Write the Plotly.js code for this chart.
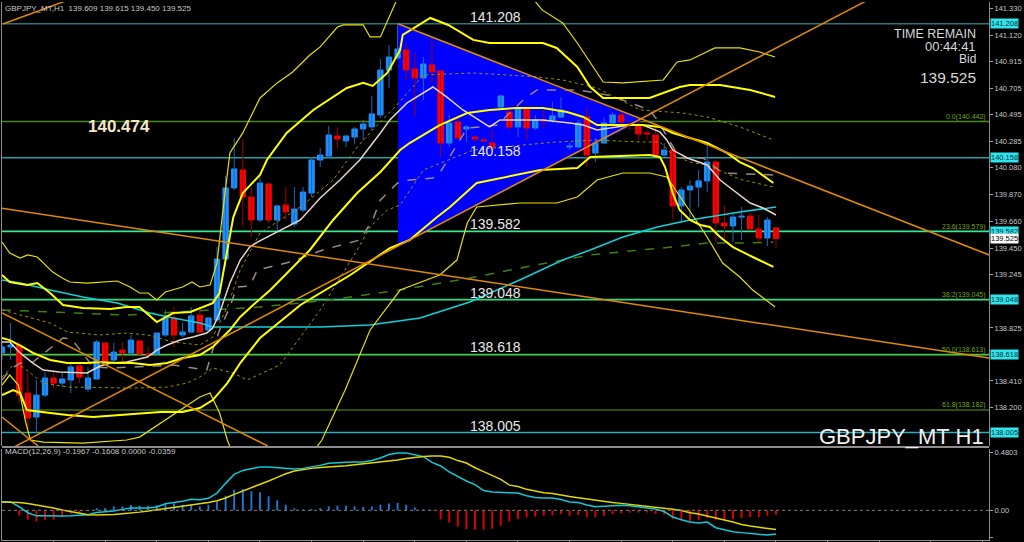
<!DOCTYPE html>
<html><head><meta charset="utf-8">
<script src="https://cdn.plot.ly/plotly-3.0.1.min.js"></script>
<style>html,body{margin:0;padding:0;background:#000;}#chart{width:1024px;height:542px;}</style>
</head><body><div id="chart"></div>
<script>
// ---------------- DATA ----------------
const symbolTitle = 'GBPJPY_MT,H1  139.609 139.615 139.450 139.525';
const candleOpen = [138.629,138.676,138.691,138.315,138.127,138.299,138.433,138.393,138.417,138.527,138.346,138.425,138.707,138.574,138.652,138.629,138.723,138.621,138.621,138.770,138.903,138.770,138.793,138.926,138.809,138.887,139.365,139.922,140.063,139.851,139.671,139.953,139.671,139.788,139.640,139.749,139.882,140.141,140.172,140.329,140.290,140.321,140.384,140.400,140.494,140.846,140.940,141.003,140.854,140.784,140.886,140.839,140.274,140.439,140.384,140.321,140.298,140.274,140.556,140.517,140.400,140.541,140.392,140.455,140.455,140.478,140.243,140.243,140.478,140.196,140.274,140.431,140.494,140.423,140.415,140.353,140.337,140.180,140.219,139.781,139.906,139.929,139.977,140.125,139.647,139.624,139.694,139.702,139.600,139.530,139.609];
const candleHigh = [138.730,138.864,138.715,138.480,138.417,138.480,138.480,138.472,138.550,138.550,138.519,138.730,138.715,138.707,138.715,138.770,138.730,138.676,138.793,138.966,138.989,138.864,138.989,138.989,138.911,139.459,140.016,140.314,140.298,139.922,140.008,139.961,139.788,139.929,139.929,139.929,140.165,140.235,140.408,140.400,140.337,140.400,140.455,140.643,140.933,141.042,141.208,141.050,140.980,140.948,141.105,140.846,140.494,140.478,140.415,140.329,140.321,140.384,140.650,140.541,140.549,140.549,140.494,140.533,140.596,140.635,140.282,140.455,140.556,140.314,140.478,140.517,140.509,140.455,140.455,140.376,140.415,140.274,140.235,139.929,139.984,140.063,140.259,140.141,139.788,139.726,139.773,139.734,139.710,139.694,139.615];
const candleLow = [138.574,138.574,138.237,138.025,138.005,138.284,138.354,138.362,138.315,138.393,138.323,138.417,138.550,138.558,138.558,138.613,138.613,138.597,138.613,138.754,138.676,138.754,138.785,138.785,138.793,138.871,139.303,139.906,139.616,139.538,139.655,139.647,139.592,139.671,139.616,139.734,139.851,140.086,140.157,140.235,140.243,140.266,140.298,140.376,140.470,140.705,140.925,140.768,140.478,140.611,140.745,140.165,140.243,140.298,140.282,140.282,140.282,140.235,140.533,140.376,140.321,140.298,140.376,140.392,140.431,140.470,140.219,140.235,140.086,140.125,140.266,140.415,140.415,140.376,140.298,140.298,140.165,140.165,139.679,139.647,139.687,139.773,139.890,139.498,139.530,139.498,139.514,139.592,139.498,139.467,139.450];
const candleClose = [138.676,138.691,138.299,138.119,138.299,138.433,138.393,138.425,138.519,138.440,138.433,138.715,138.566,138.636,138.629,138.730,138.621,138.613,138.785,138.903,138.770,138.793,138.919,138.793,138.903,139.365,139.922,140.071,139.851,139.671,139.961,139.671,139.781,139.734,139.757,139.890,140.141,140.180,140.337,140.306,140.329,140.384,140.423,140.502,140.846,140.948,141.011,140.846,140.784,140.893,140.831,140.274,140.431,140.314,140.400,140.306,140.290,140.243,140.643,140.400,140.541,140.392,140.455,140.447,140.486,140.533,140.251,140.431,140.180,140.274,140.431,140.494,140.439,140.415,140.345,140.345,140.180,140.219,139.781,139.906,139.937,139.977,140.125,139.647,139.624,139.694,139.702,139.600,139.530,139.671,139.525];

// indicator lines: [candle index, price]
const bbUpperOuter = [[0,139.498],[0.9,139.412],[2.1,139.373],[3,139.397],[4.1,139.381],[5,139.318],[5.9,139.263],[7,139.216],[7.9,139.185],[9.9,139.177],[11.7,139.185],[13.4,139.193],[14.9,139.146],[16,139.099],[17,139.099],[18,139.044],[19,139.107],[19.9,139.122],[21,139.146],[22.1,139.185],[23,139.146],[24.2,139.161],[25,139.334],[25.6,139.694],[26.5,140.196],[28,140.353],[30,140.627],[32,140.745],[33.8,140.831],[35.8,140.964],[37,141.027],[39,141.183],[39.7,141.199],[42,141.199],[42.8,141.105],[44,141.105],[44.9,141.238],[45.9,141.395],[48.6,141.59],[53.3,141.67],[57.9,141.59],[61.4,141.434],[62.8,141.317],[65.2,141.215],[66.9,141.058],[69.9,140.752],[72.2,140.745],[76.9,140.768],[78.5,140.909],[80,140.925],[81.2,140.964],[82.9,141.019],[85.8,141.019],[88.1,140.987],[89.9,140.948]];
const bbUpperInner = [[0,139.240],[0.9,139.185],[2.9,139.161],[4.1,139.177],[5.6,139.099],[7.1,139.005],[9.4,138.981],[12.6,138.973],[14.5,138.989],[16,138.989],[18,138.871],[19.9,138.942],[21.9,138.950],[23.4,138.989],[24.5,139.020],[25.3,139.099],[26.2,139.436],[26.9,139.694],[28,139.882],[30,140.024],[30.8,140.141],[33.1,140.353],[36.2,140.533],[38.5,140.635],[40.1,140.705],[42,140.745],[43.1,140.721],[44.8,140.823],[46.3,141.003],[46.6,141.121],[49.8,141.254],[51.9,141.199],[54.8,141.082],[56.7,141.058],[62.9,141.058],[64.5,141.019],[66.9,140.870],[68.4,140.713],[69.9,140.627],[75.3,140.627],[76.9,140.666],[78.8,140.713],[80,140.729],[83.5,140.729],[87,140.690],[89.9,140.635]];
const bbMiddle = [[0,138.746],[0.9,138.730],[2.4,138.676],[3.6,138.629],[5.6,138.574],[7.6,138.550],[9.9,138.550],[11.4,138.558],[13.4,138.550],[15.2,138.550],[17.2,138.534],[19.2,138.550],[21,138.589],[23,138.613],[24.5,138.676],[25.3,138.730],[26.5,138.809],[27.7,138.911],[29.2,139.005],[31.2,139.122],[33.5,139.279],[35.8,139.436],[38.5,139.671],[41.3,139.882],[44,140.047],[46.3,140.219],[47.4,140.274],[50.9,140.415],[54.1,140.509],[56.7,140.533],[59.9,140.549],[62.9,140.549],[65.7,140.517],[67.6,140.478],[69.2,140.415],[71.5,140.415],[74.5,140.415],[76.5,140.400],[78,140.353],[82,140.274],[84.3,140.196],[85.8,140.125],[87.3,140.078],[89.7,139.961]];
const bbLowerInner = [[0,138.299],[1.3,138.339],[2.1,138.315],[2.9,138.182],[5.6,138.158],[7.6,138.143],[10.6,138.127],[13.4,138.143],[16,138.158],[18.4,138.166],[21,138.166],[23,138.198],[24.5,138.260],[26.2,138.393],[27.7,138.550],[30,138.746],[34.7,139.005],[40.5,139.240],[45.1,139.451],[47.4,139.514],[50.6,139.694],[52.1,139.773],[55.2,139.961],[62.6,140.063],[66.9,140.078],[68.4,140.165],[75.3,140.180],[76.5,140.165],[77.1,140.086],[78,139.882],[78.8,139.749],[80,139.671],[81.2,139.632],[82.3,139.616],[83.5,139.538],[85,139.459],[87.3,139.381],[89.7,139.303]];
const bbLowerOuter = [[0,138.378],[0.9,138.456],[1.9,138.378],[2.7,138.103],[3.3,137.947],[4.8,137.931],[9.4,137.923],[14.5,137.947],[16,137.970],[23,138.284],[24.2,138.315],[25.3,138.158],[26.2,137.947],[27.1,137.790],[32.3,137.712],[36.6,137.892],[37.2,137.947],[39.9,138.339],[42.8,138.809],[46.3,139.122],[50.9,139.240],[52.9,139.357],[54.1,139.647],[55.2,139.773],[60.2,139.804],[64.5,139.804],[66.9,139.851],[69.2,139.984],[72.2,140.039],[75.3,140.039],[77.3,140.008],[81.7,139.569],[83.8,139.334],[85.8,139.224],[87.3,139.122],[89.9,138.989]];
const bbUpperDot = [[0,138.966],[2.1,138.926],[5.6,138.864],[7.6,138.793],[11.4,138.770],[14.5,138.785],[16.9,138.770],[19.9,138.715],[23,138.691],[24.5,138.754],[26.2,138.989],[27.7,139.279],[30,139.569],[34.7,139.773],[38.5,139.984],[41.3,140.243],[43.1,140.376],[45.7,140.556],[49,140.807],[54.8,140.823],[62.2,140.792],[65.2,140.768],[69.2,140.705],[74.2,140.533],[79.2,140.509],[82,140.478],[85.8,140.400],[89.7,140.298]];
const bbLowerDot = [[0,138.440],[1.3,138.534],[2.4,138.519],[4.8,138.393],[7.6,138.362],[15.2,138.354],[19.2,138.362],[21.5,138.393],[23,138.440],[24.5,138.511],[26.9,138.472],[28.5,138.417],[32.3,138.534],[37,138.966],[41.3,139.436],[42.8,139.616],[44.8,139.749],[46.3,139.788],[49,140.063],[54.8,140.219],[60.6,140.259],[64.5,140.282],[69.2,140.298],[74.2,140.282],[76.5,140.282],[78,140.180],[80,140.125],[82,140.102],[85.8,139.990],[89.7,139.929]];
const maFast = [[0,138.715],[0.9,138.715],[2.1,138.629],[3.6,138.550],[4.8,138.495],[6.7,138.480],[9.9,138.472],[11.4,138.527],[12.6,138.550],[14.5,138.558],[16.9,138.597],[18,138.652],[19.2,138.691],[20.7,138.730],[22.2,138.754],[23.8,138.785],[24.5,138.824],[25.3,138.942],[26.5,139.177],[27.7,139.357],[28.8,139.459],[29.7,139.498],[34.7,139.671],[37,139.843],[39.3,139.984],[41.6,140.141],[44,140.353],[45.1,140.455],[47.1,140.588],[50.1,140.713],[51.7,140.635],[53.6,140.533],[56.7,140.400],[57.9,140.455],[59.9,140.455],[62.9,140.455],[66,140.431],[67.6,140.415],[69.2,140.376],[70.7,140.392],[73,140.415],[74.5,140.415],[76.5,140.361],[77.3,140.298],[78,140.219],[79.7,140.157],[82,140.102],[83.5,139.984],[85,139.906],[87,139.804],[88.5,139.765],[90,139.710]];
const kijunLine = [[0,138.417],[0.9,138.495],[2.1,138.550],[3.6,138.558],[7.1,138.746],[8.1,138.738],[9.1,138.652],[10.6,138.519],[12.6,138.511],[15.7,138.519],[19.9,138.534],[22.2,138.511],[23.8,138.495],[24.5,138.652],[25.3,138.809],[26.5,138.989],[27.3,139.146],[28.8,139.154],[29.7,139.279],[33.5,139.342],[37.3,139.436],[41.6,139.514],[43.1,139.671],[44,139.828],[46,139.961],[47.4,139.984],[50.1,140.000],[50.9,140.039],[54.1,140.392],[55.6,140.400],[57.6,140.415],[60.6,140.611],[62.2,140.690],[66.9,140.690],[70.4,140.650],[72.2,140.611],[75.3,140.533],[76.2,140.455],[78.8,140.157],[81.5,140.157],[83.8,140.039],[89.7,140.024]];
const maMedium = [[0,139.201],[2.1,139.177],[5.6,139.122],[9.4,139.067],[13.4,139.020],[17.2,138.942],[19.9,138.903],[23,138.864],[24.5,138.832],[30,138.832],[37,138.832],[42.8,138.848],[48.6,138.903],[54.4,139.028],[60.2,139.201],[65.2,139.357],[68.4,139.436],[72.2,139.538],[76.2,139.616],[80,139.671],[82,139.694],[85.8,139.734],[90,139.773]];
const maLong = [[0,138.966],[14.5,138.926],[30,138.989],[38.1,139.044],[46.3,139.122],[54.4,139.216],[61.4,139.310],[68.4,139.397],[74.2,139.436],[78,139.459],[82,139.490],[85.8,139.490],[89.7,139.498]];

// drawn objects
const trendLines = [
  [[-0.2,139.765],[114.8,138.589]],
  [[46.05,141.208],[114.8,139.397]],
  [[1.4,137.892],[100.7,141.395]],
  [[0.1,141.207],[7.4,141.387]],
  [[0,138.942],[30.9,137.900]],
  [[0,138.127],[4.2,137.900]]
];
const triangle = [[46.05,141.208],[74.5,140.455],[46.05,139.475]];
const levelPrices = [141.208, 140.158, 139.582, 139.048, 138.618, 138.005];
const levelColors = ['#257878','#25a0a8','#35e8a0','#30d890','#40c850','#28b0c0'];
const fibRatios = ['0.0','23.6','38.2','50.0','61.8'];
const fibPrices = [140.442, 139.579, 139.045, 138.613, 138.182];
const bigLabel = '140.474';
const bidPrice = 139.525;
const timeRemain = '00:44:41';
const priceTicks = [141.330,141.120,140.915,140.705,140.495,140.285,140.080,139.870,139.660,139.450,139.245,138.825,138.410,138.200];

// MACD(12,26,9)
const macdTitle = 'MACD(12,26,9) -0.1967 -0.1608 0.0000 -0.0359';
const macdMain = [0.072,0.070,0.030,-0.020,-0.046,-0.048,-0.048,-0.048,-0.046,-0.042,-0.036,-0.018,-0.012,-0.006,0.008,0.019,0.019,0.019,0.028,0.055,0.066,0.075,0.092,0.088,0.100,0.144,0.225,0.300,0.333,0.344,0.361,0.362,0.355,0.346,0.344,0.350,0.360,0.375,0.392,0.398,0.402,0.403,0.403,0.415,0.436,0.465,0.478,0.478,0.465,0.448,0.400,0.370,0.320,0.280,0.245,0.215,0.165,0.153,0.150,0.144,0.144,0.122,0.108,0.103,0.103,0.090,0.069,0.065,0.044,0.030,0.033,0.036,0.042,0.038,0.028,0.019,0.011,-0.010,-0.056,-0.078,-0.098,-0.106,-0.098,-0.145,-0.160,-0.178,-0.186,-0.195,-0.200,-0.205,-0.1967];
const macdSignal = [0.069,0.069,0.065,0.057,0.045,0.035,0.020,0.003,-0.012,-0.026,-0.037,-0.039,-0.039,-0.035,-0.028,-0.023,-0.015,-0.006,0.004,0.013,0.022,0.036,0.048,0.058,0.066,0.080,0.103,0.133,0.160,0.190,0.215,0.245,0.275,0.305,0.328,0.340,0.350,0.357,0.360,0.365,0.372,0.380,0.388,0.393,0.398,0.410,0.419,0.432,0.442,0.450,0.453,0.453,0.443,0.415,0.395,0.355,0.323,0.288,0.258,0.210,0.198,0.175,0.160,0.147,0.140,0.125,0.115,0.105,0.094,0.083,0.073,0.065,0.058,0.050,0.040,0.035,0.028,0.022,0.010,-0.002,-0.020,-0.030,-0.045,-0.065,-0.080,-0.098,-0.118,-0.131,-0.142,-0.152,-0.1608];
const macdHist = [-0.005,-0.003,-0.044,-0.078,-0.092,-0.078,-0.078,-0.056,-0.028,-0.017,-0.008,0.019,0.019,0.033,0.033,0.044,0.039,0.039,0.044,0.061,0.056,0.047,0.047,0.033,0.047,0.075,0.122,0.172,0.178,0.158,0.150,0.117,0.083,0.047,0.017,0.006,0.011,0.019,0.033,0.039,0.039,0.033,0.028,0.033,0.047,0.056,0.061,0.047,0.025,0.008,-0.003,-0.075,-0.103,-0.136,-0.156,-0.161,-0.161,-0.153,-0.128,-0.092,-0.072,-0.061,-0.053,-0.044,-0.039,-0.031,-0.047,-0.039,-0.056,-0.056,-0.047,-0.031,-0.025,-0.019,-0.019,-0.019,-0.031,-0.036,-0.072,-0.083,-0.092,-0.083,-0.064,-0.078,-0.083,-0.072,-0.064,-0.056,-0.056,-0.044,-0.0359];
const macdTicks = [0.4803, 0, -0.2289];
const macdTickText = ['0.4803','0.00','-0.2289'];

// ---------------- BUILD ----------------
const FONT = 'Liberation Sans, Arial, sans-serif';
const idx = candleOpen.map((_, i) => i);
const upI = idx.filter(i => candleClose[i] >= candleOpen[i]);
const dnI = idx.filter(i => candleClose[i] < candleOpen[i]);
function wicks(ids, color) {
  const x = [], y = [];
  ids.forEach(i => { x.push(i, i, null); y.push(candleLow[i], candleHigh[i], null); });
  return {type:'scatter', mode:'lines', x, y, line:{color, width:1}, hoverinfo:'skip', showlegend:false};
}
function bodies(ids, color, isUp) {
  return {type:'bar', x: ids,
    base: ids.map(i => isUp ? candleOpen[i] : candleClose[i]),
    y: ids.map(i => Math.abs(candleClose[i] - candleOpen[i])),
    width: 0.62, marker:{color, line:{color, width:1}}, hoverinfo:'skip', showlegend:false};
}
function line(pts, color, width, dash) {
  return {type:'scatter', mode:'lines', x: pts.map(p => p[0]), y: pts.map(p => p[1]),
    line:{color, width, dash: dash || 'solid'}, hoverinfo:'skip', showlegend:false};
}

const traces = [];
traces.push(wicks(upI, '#1f64b8'));
traces.push(wicks(dnI, '#a00000'));
traces.push(bodies(upI, '#1e90ff', true));
traces.push(bodies(dnI, '#ff0000', false));
traces.push(line(maLong, '#3f7f10', 1.5, 'dash'));
traces.push(line(maMedium, '#10d0dc', 1.5));
traces.push(line(kijunLine, '#9a8a80', 1.5, 'dash'));
traces.push(line(bbUpperDot, '#9a9000', 1, 'dot'));
traces.push(line(bbLowerDot, '#9a9000', 1, 'dot'));
traces.push(line(maFast, '#e6d6cc', 1.5));
traces.push(line(bbUpperOuter, '#e8e000', 1.2));
traces.push(line(bbLowerOuter, '#e8e000', 1.2));
traces.push(line(bbUpperInner, '#ffff00', 2));
traces.push(line(bbMiddle, '#ffff00', 2));
traces.push(line(bbLowerInner, '#ffff00', 2));
trendLines.forEach(t => traces.push(line(t, '#e08a00', 1.5)));

// MACD panel
const hUp = idx.filter(i => macdHist[i] >= 0), hDn = idx.filter(i => macdHist[i] < 0);
traces.push({type:'bar', x:hUp, y:hUp.map(i => macdHist[i]), width:0.22, marker:{color:'#1e78dc'}, yaxis:'y2', hoverinfo:'skip', showlegend:false});
traces.push({type:'bar', x:hDn, y:hDn.map(i => macdHist[i]), width:0.22, marker:{color:'#e00000'}, yaxis:'y2', hoverinfo:'skip', showlegend:false});
traces.push({type:'scatter', mode:'lines', x: idx, y: macdMain, yaxis:'y2', line:{color:'#10c8d8', width:1.5}, hoverinfo:'skip', showlegend:false});
traces.push({type:'scatter', mode:'lines', x: idx, y: macdSignal, yaxis:'y2', line:{color:'#e0d800', width:1.5}, hoverinfo:'skip', showlegend:false});

// shapes
const shapes = [];
shapes.push({type:'path', layer:'below', xref:'x', yref:'y',
  path: 'M ' + triangle.map(p => p[0] + ' ' + p[1]).join(' L ') + ' Z',
  fillcolor:'#0000ff', line:{width:0}});
fibPrices.forEach((p, k) => shapes.push({type:'line', layer:'below', xref:'paper', x0:0, x1:1, yref:'y', y0:p, y1:p,
  line:{color: k === 0 ? '#4a8a08' : '#3c6a08', width:1.5}}));
levelPrices.forEach((p, k) => shapes.push({type:'line', layer:'below', xref:'paper', x0:0, x1:1, yref:'y', y0:p, y1:p,
  line:{color: levelColors[k], width:1.5}}));
shapes.push({type:'line', xref:'paper', x0:0, x1:1, yref:'y2', y0:0, y1:0, line:{color:'#808080', width:1, dash:'dot'}});
shapes.push({type:'line', xref:'paper', x0:0, x1:1.0, yref:'paper', y0:0.1729, y1:0.1729, line:{color:'#8c8c8c', width:2}});

// annotations
const ann = [];
const txt = (o) => Object.assign({showarrow:false, borderpad:0}, o);
ann.push(txt({xref:'paper', yref:'paper', x:0, y:1, xanchor:'left', yanchor:'top', xshift:2, yshift:-1,
  text:symbolTitle, font:{family:FONT, size:8, color:'#c8c8c8'}}));
ann.push(txt({xref:'paper', yref:'paper', x:0, y:0.1636, xanchor:'left', yanchor:'middle', xshift:2,
  text:macdTitle, font:{family:FONT, size:8, color:'#c8c8c8'}}));
const rx = (977 - 2) / 987;
[['TIME REMAIN', 0.9405, 12.5], [timeRemain, 0.9170, 13], ['Bid', 0.8945, 12], [bidPrice.toFixed(3), 0.8597, 15.5]].forEach(r =>
  ann.push(txt({xref:'paper', yref:'paper', x:rx, y:r[1], xanchor:'right', yanchor:'middle', text:r[0],
    font:{family:FONT, size:r[2], color:'#d8d8d8'}})));
ann.push(txt({xref:'paper', yref:'paper', x:0.1185, y:0.7677, xanchor:'center', yanchor:'middle', text:'<b>' + bigLabel + '</b>',
  font:{family:FONT, size:17, color:'#f5e6c8'}}));
ann.push(txt({xref:'paper', yref:'paper', x:0.9959, y:0.1933, xanchor:'right', yanchor:'middle', text:'GBPJPY_MT H1',
  font:{family:FONT, size:22, color:'#f0f0f0'}}));
levelPrices.forEach(p => ann.push(txt({xref:'x', yref:'y', x:54.3, y:p, xanchor:'left', yanchor:'bottom', yshift:-2,
  text:p.toFixed(3), font:{family:FONT, size:14, color:'#e8e8e8'}})));
fibPrices.forEach((p, k) => ann.push(txt({xref:'paper', yref:'y', x:0.998, y:p, xanchor:'right', yanchor:'bottom', yshift:0,
  text:fibRatios[k] + '(' + p.toFixed(3) + ')', font:{family:FONT, size:7, color:'#70a810'}})));
levelPrices.forEach(p => ann.push(txt({xref:'paper', yref:'y', x:1, y:p, xanchor:'left', yanchor:'middle', xshift:1,
  text:p.toFixed(3), bgcolor:'#30e4ec', font:{family:FONT, size:7.5, color:'#003038'}})));
ann.push(txt({xref:'paper', yref:'y', x:1, y:bidPrice, xanchor:'left', yanchor:'middle', xshift:1,
  text:bidPrice.toFixed(3), bgcolor:'#ffffff', font:{family:FONT, size:7.5, color:'#000000'}}));

const layout = {
  width:1024, height:542, paper_bgcolor:'#000', plot_bgcolor:'#000',
  margin:{l:2, r:35, t:2, b:2}, showlegend:false, barmode:'overlay',
  xaxis:{range:[0, 114.77], anchor:'y2', showgrid:false, zeroline:false, showticklabels:false,
    ticks:'outside', ticklen:4, tickcolor:'#8c8c8c', tickvals:[6,12,18,24,30,36,42,48,54,60,66,72,78,84,90,96,102,108,114],
    showline:true, linecolor:'#8c8c8c', fixedrange:true},
  yaxis:{domain:[0.1747, 1], range:[137.900, 141.379], side:'right', anchor:'x', showgrid:false, zeroline:false,
    tickvals:priceTicks, ticktext:priceTicks.map(v => v.toFixed(3)), ticks:'outside', ticklen:3, tickcolor:'#a0a0a0',
    tickfont:{family:FONT, size:7.5, color:'#c8c8c8'}, showline:true, linecolor:'#8c8c8c', mirror:true, linewidth:1},
  yaxis2:{domain:[0, 0.169], range:[-0.2475, 0.511], side:'right', anchor:'x', showgrid:false, zeroline:false,
    tickvals:macdTicks, ticktext:macdTickText, ticks:'outside', ticklen:3, tickcolor:'#a0a0a0',
    tickfont:{family:FONT, size:7.5, color:'#c8c8c8'}, showline:true, linecolor:'#8c8c8c', mirror:true, linewidth:1},
  shapes, annotations: ann
};
Plotly.newPlot('chart', traces, layout, {displayModeBar:false, staticPlot:true});
</script></body></html>
